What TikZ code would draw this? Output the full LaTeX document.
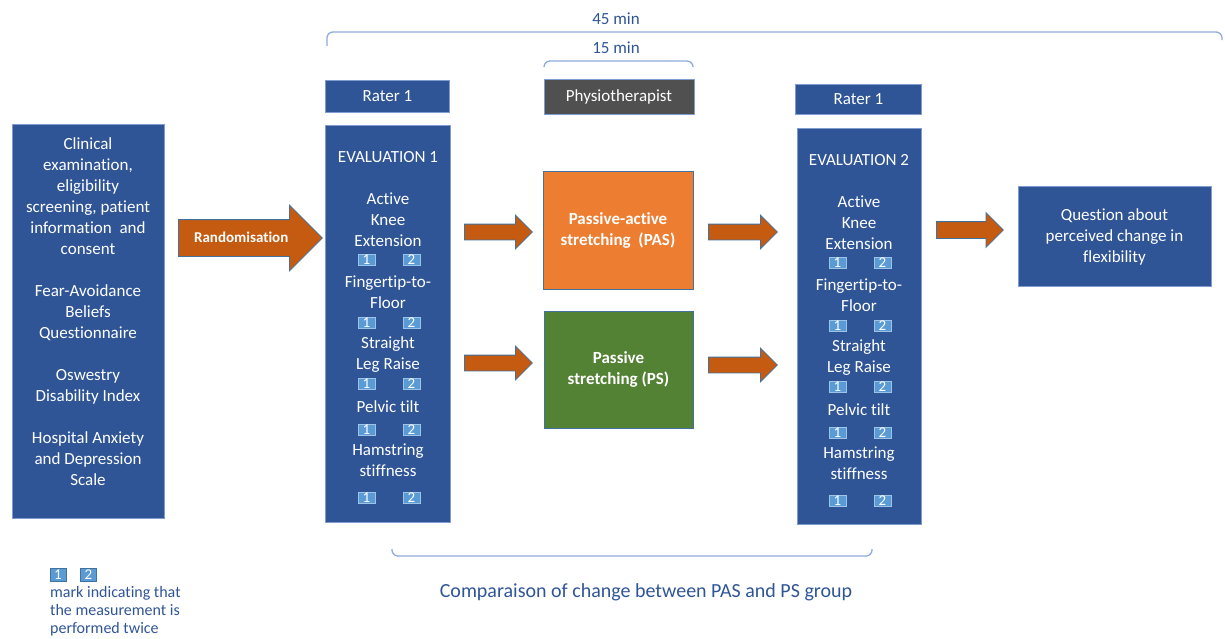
\documentclass[tikz,border=0pt]{standalone}
\usepackage{fontspec}
\setmainfont{Carlito}[Ligatures=NoCommon]
\usetikzlibrary{shapes.arrows}
\definecolor{boxblue}{HTML}{2F5597}
\definecolor{boxline}{HTML}{7E9CCF}
\definecolor{mkblue}{HTML}{5B9BD5}
\definecolor{mkline}{HTML}{9DC3E6}
\definecolor{arrorange}{HTML}{C55A11}
\definecolor{arrline}{HTML}{41719C}
\definecolor{pasorange}{HTML}{ED7D31}
\definecolor{psgreen}{HTML}{548235}
\definecolor{physgrey}{HTML}{505050}
\definecolor{brkblue}{HTML}{8FAADC}
\definecolor{txtblue}{HTML}{2F5597}

\begin{document}
\begin{tikzpicture}[x=1pt,y=-1pt]
\tikzset{bx/.style={draw=boxline, line width=1pt, fill=boxblue, text=white, inner sep=0pt, font=\fontsize{17}{21}\selectfont}}
\tikzset{wt/.style={text=white, align=center, inner sep=0pt, font=\fontsize{17}{21}\selectfont}}
\tikzset{mk/.style={draw=mkline, fill=mkblue, text=white, minimum width=17pt, minimum height=11pt, inner sep=0pt, font=\fontsize{15}{15}\selectfont}}
\tikzset{barr/.style={single arrow, single arrow tip angle=90, draw=arrline, line width=0.8pt, fill=arrorange, anchor=tail, inner sep=0pt}}
\tikzset{brk/.style={draw=brkblue, line width=1.3pt, rounded corners=6pt}}
\tikzset{lbl/.style={text=txtblue, inner sep=0pt, font=\fontsize{17}{21}\selectfont}}

\useasboundingbox (0,0) rectangle (1225,638);

% time brackets
\draw [brk] (327,46) -- (327,32) -- (1222,32) -- (1222,40);
\node [lbl] (t45) at (616,19) {45 min};
\draw [brk] (544,67) -- (544,61) -- (693,61) -- (693,67);
\node [lbl] (t15) at (616,48) {15 min};

% inclusion
\node [bx, minimum width=152pt, minimum height=394pt] (info) at (88,321) {};
\node [wt] (infot) at (88,312) {Clinical\\examination,\\eligibility\\screening, patient\\information~ and\\consent\\[21pt]Fear-Avoidance\\Beliefs\\Questionnaire\\[21pt]Oswestry\\Disability Index\\[21pt]Hospital Anxiety\\and Depression\\Scale};
\node [barr, text=white, font=\bfseries\fontsize{15}{15}\selectfont, text height=11pt, text depth=3pt, inner ysep=11pt, minimum height=144pt, single arrow head extend=14.5pt] (rand) at (178,238) {Randomisation};

% evaluation 1
\node [bx, minimum width=124pt, minimum height=32pt] (r1) at (387.5,96) {Rater 1};
\node [bx, minimum width=125pt, minimum height=397pt] (ev1) at (387.5,323.5) {};
\node [wt] (ev1t) at (388,157) {EVALUATION 1};
\node [wt] (ake1) at (388,220) {Active\\Knee\\Extension};
\node [mk] (ake1a) at (366.5,260) {1}; \node [mk] (ake1b) at (411.5,260) {2};
\node [wt] (ftf1) at (388,292) {Fingertip-to-\\Floor};
\node [mk] (ftf1a) at (366.5,323) {1}; \node [mk] (ftf1b) at (411.5,323) {2};
\node [wt] (slr1) at (388,355) {Straight\\Leg Raise};
\node [mk] (slr1a) at (366.5,384) {1}; \node [mk] (slr1b) at (411.5,384) {2};
\node [wt] (pt1) at (388,407) {Pelvic tilt};
\node [mk] (pt1a) at (366.5,430) {1}; \node [mk] (pt1b) at (411.5,430) {2};
\node [wt] (hs1) at (388,460) {Hamstring\\stiffness};
\node [mk] (hs1a) at (366.5,498) {1}; \node [mk] (hs1b) at (411.5,498) {2};

% interventions
\node [bx, fill=physgrey, minimum width=150pt, minimum height=35pt] (phys) at (619,96.5) {Physiotherapist};
\node [barr, text height=15pt, text depth=0pt, minimum height=68pt, single arrow head extend=9pt] (a1) at (464,232) {};
\node [barr, text height=15pt, text depth=0pt, minimum height=68pt, single arrow head extend=9pt] (a2) at (464,363) {};
\node [bx, draw=arrline, fill=pasorange, align=center, font=\bfseries\fontsize{17}{21}\selectfont, minimum width=150pt, minimum height=118pt] (pas) at (618,230) {Passive-active\\stretching~ (PAS)};
\node [bx, draw=arrline, fill=psgreen, align=center, font=\bfseries\fontsize{17}{21}\selectfont, minimum width=149pt, minimum height=117pt] (ps) at (618.5,369.5) {Passive\\stretching (PS)};
\node [barr, text height=15pt, text depth=0pt, minimum height=69pt, single arrow head extend=9pt] (a3) at (708,232) {};
\node [barr, text height=15pt, text depth=0pt, minimum height=69pt, single arrow head extend=9pt] (a4) at (708,365) {};

% evaluation 2
\begin{scope}[shift={(471,3)}]
\node [bx, minimum width=126pt, minimum height=30pt] (r2) at (387.5,96.5) {Rater 1};
\node [bx, minimum width=124pt, minimum height=396pt] (ev2) at (388,323) {};
\node [wt] (ev2t) at (388,157) {EVALUATION 2};
\node [wt] (ake2) at (388,220) {Active\\Knee\\Extension};
\node [mk] (ake2a) at (366.5,260) {1}; \node [mk] (ake2b) at (411.5,260) {2};
\node [wt] (ftf2) at (388,292) {Fingertip-to-\\Floor};
\node [mk] (ftf2a) at (366.5,323) {1}; \node [mk] (ftf2b) at (411.5,323) {2};
\node [wt] (slr2) at (388,355) {Straight\\Leg Raise};
\node [mk] (slr2a) at (366.5,384) {1}; \node [mk] (slr2b) at (411.5,384) {2};
\node [wt] (pt2) at (388,407) {Pelvic tilt};
\node [mk] (pt2a) at (366.5,430) {1}; \node [mk] (pt2b) at (411.5,430) {2};
\node [wt] (hs2) at (388,460) {Hamstring\\stiffness};
\node [mk] (hs2a) at (366.5,498) {1}; \node [mk] (hs2b) at (411.5,498) {2};
\end{scope}

\node [barr, text height=16pt, text depth=0pt, minimum height=67pt, single arrow head extend=9pt] (a5) at (936,230) {};
\node [bx, align=center, minimum width=193pt, minimum height=100pt] (quest) at (1114.5,236.5) {Question about\\perceived change in\\flexibility};

% comparison
\draw [brk] (392,549) -- (392,556) -- (872,556) -- (872,549);
\node [lbl, font=\fontsize{20}{24}\selectfont] (cmp) at (646,592) {Comparaison of change between PAS and PS group};

% legend
\node [mk, draw=arrline, minimum width=16pt, minimum height=13pt] (lg1) at (58,574.5) {1};
\node [mk, draw=arrline, minimum width=16pt, minimum height=13pt] (lg2) at (88.5,574.5) {2};
\node [lbl, anchor=west, align=left, font=\fontsize{16}{18}\selectfont] (lgt) at (50,611.5) {mark indicating that\\the measurement is\\performed twice};

\end{tikzpicture}
\end{document}
